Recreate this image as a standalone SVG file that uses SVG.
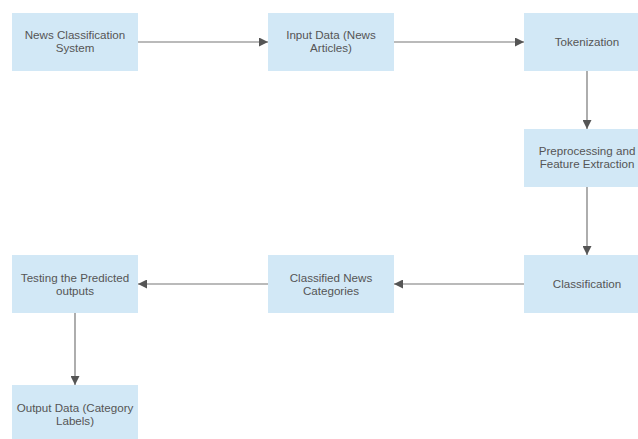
<svg xmlns="http://www.w3.org/2000/svg" width="638" height="439" viewBox="0 0 638 439">
<defs>
<style>
.box{fill:#d2e8f6;}
.t{font-family:"Liberation Sans",Arial,sans-serif;font-size:11.6px;fill:#555;text-anchor:middle;}
.c{stroke:#777;stroke-width:1.2;fill:none;marker-end:url(#ah);}
</style>
<marker id="ah" viewBox="0 0 10 10" refX="10" refY="5" markerWidth="9" markerHeight="9" markerUnits="userSpaceOnUse" orient="auto">
<path d="M0,0 L10,5 L0,10 z" fill="#555"/>
</marker>
</defs>
<rect width="638" height="439" fill="#fff"/>
<g id="connectors">
<line class="c" x1="138" y1="42" x2="268" y2="42"/>
<line class="c" x1="394" y1="42" x2="524" y2="42"/>
<line class="c" x1="587" y1="71" x2="587" y2="129"/>
<line class="c" x1="587" y1="187" x2="587" y2="255"/>
<line class="c" x1="524" y1="284" x2="394" y2="284"/>
<line class="c" x1="268" y1="284" x2="138" y2="284"/>
<line class="c" x1="75" y1="313" x2="75" y2="385"/>
</g>
<g id="n1"><rect class="box" x="12" y="13" width="126" height="58"/><text class="t" x="75" y="39">News Classification</text><text class="t" x="75" y="52">System</text></g>
<g id="n2"><rect class="box" x="268" y="13" width="126" height="58"/><text class="t" x="331" y="39">Input Data (News</text><text class="t" x="331" y="52">Articles)</text></g>
<g id="n3"><rect class="box" x="524" y="13" width="126" height="58"/><text class="t" x="587" y="46">Tokenization</text></g>
<g id="n4"><rect class="box" x="524" y="129" width="126" height="58"/><text class="t" x="587" y="155">Preprocessing and</text><text class="t" x="587" y="168">Feature Extraction</text></g>
<g id="n5"><rect class="box" x="524" y="255" width="126" height="58"/><text class="t" x="587" y="288">Classification</text></g>
<g id="n6"><rect class="box" x="268" y="255" width="126" height="58"/><text class="t" x="331" y="282">Classified News</text><text class="t" x="331" y="295">Categories</text></g>
<g id="n7"><rect class="box" x="12" y="255" width="126" height="58"/><text class="t" x="75" y="282">Testing the Predicted</text><text class="t" x="75" y="295">outputs</text></g>
<g id="n8"><rect class="box" x="12" y="385" width="126" height="58"/><text class="t" x="75" y="412">Output Data (Category</text><text class="t" x="75" y="425">Labels)</text></g>
</svg>
